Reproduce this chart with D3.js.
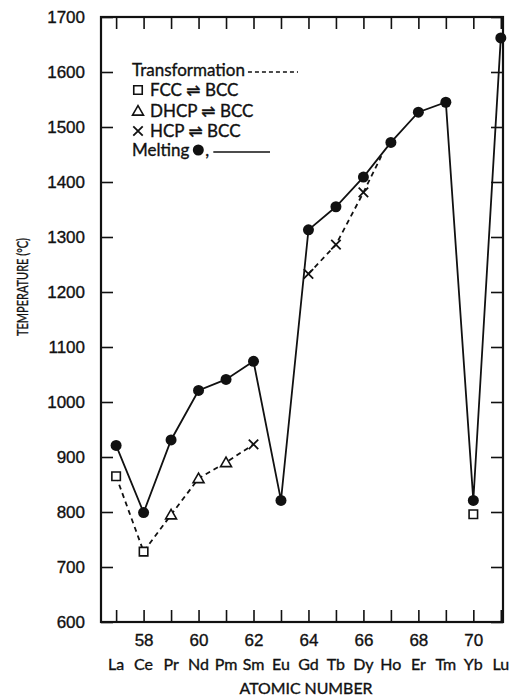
<!DOCTYPE html>
<html>
<head>
<meta charset="utf-8">
<script src="https://cdn.jsdelivr.net/npm/d3@7"></script>
<style>
  html, body { margin: 0; padding: 0; background: #fff; }
  svg { display: block; font-family: Lato, "DejaVu Sans", sans-serif; }
  svg text { stroke: #111; stroke-width: 0.35px; }
</style>
</head>
<body>
<div id="chart"></div>
<script>
(function () {
  // Atomic numbers and element symbols (lanthanides)
  const ATOMIC_NUMBERS = [57, 58, 59, 60, 61, 62, 63, 64, 65, 66, 67, 68, 69, 70, 71];
  const ELEMENTS = ['La', 'Ce', 'Pr', 'Nd', 'Pm', 'Sm', 'Eu', 'Gd', 'Tb', 'Dy', 'Ho', 'Er', 'Tm', 'Yb', 'Lu'];
  const MELTING = [921, 799, 931, 1021, 1041, 1074, 821, 1313, 1355, 1409, 1472, 1527, 1545, 821, 1662];

  // Transformation temperatures (dashed), marker = crystal change
  const TRANS_LIGHT_Z = [57, 58, 59, 60, 61, 62];
  const TRANS_LIGHT_T = [865, 728, 795, 861, 890, 923];
  const TRANS_LIGHT_M = ['square', 'square', 'triangle', 'triangle', 'triangle', 'cross'];

  const TRANS_HEAVY_Z = [64, 65, 66, 66.65];
  const TRANS_HEAVY_T = [1233, 1286, 1381, 1447];
  const TRANS_HEAVY_M = ['cross', 'cross', 'cross', null];

  const TRANS_YB_Z = [70];
  const TRANS_YB_T = [796];
  const TRANS_YB_M = ['square'];

  const Y_TICKS = [600, 700, 800, 900, 1000, 1100, 1200, 1300, 1400, 1500, 1600, 1700];
  const X_LABELED = [58, 60, 62, 64, 66, 68, 70];

  const W = 513, H = 697;
  const PLOT = { left: 101, right: 503, top: 17, bottom: 622 };
  const TICK = 12;

  const svg = d3.select('#chart').append('svg')
    .attr('width', W).attr('height', H);

  const x = d3.scaleLinear().domain([56.45, 71.08]).range([PLOT.left, PLOT.right]);
  const y = d3.scaleLinear().domain([600, 1700]).range([PLOT.bottom, PLOT.top]);

  // Axes (inward ticks on all four sides)
  svg.append('g')
    .attr('transform', `translate(0,${PLOT.bottom})`)
    .call(d3.axisBottom(x).tickValues(ATOMIC_NUMBERS).tickSizeInner(-TICK).tickSizeOuter(0)
      .tickPadding(12).tickFormat(d => X_LABELED.includes(d) ? d : ''))
    .call(g => g.selectAll('text').style('font-size', '17px').attr('fill', '#111'));

  svg.append('g')
    .attr('transform', `translate(0,${PLOT.top})`)
    .call(d3.axisTop(x).tickValues(ATOMIC_NUMBERS).tickSizeInner(-TICK).tickSizeOuter(0).tickFormat(''));

  svg.append('g')
    .attr('transform', `translate(${PLOT.left},0)`)
    .call(d3.axisLeft(y).tickValues(Y_TICKS).tickSizeInner(-TICK).tickSizeOuter(0).tickPadding(16).tickFormat(d3.format('d')))
    .call(g => g.selectAll('text').style('font-size', '17px').attr('fill', '#111'));

  svg.append('g')
    .attr('transform', `translate(${PLOT.right},0)`)
    .call(d3.axisRight(y).tickValues(Y_TICKS).tickSizeInner(-TICK).tickSizeOuter(0).tickFormat(''));

  svg.selectAll('.domain').remove();
  svg.selectAll('.tick line').attr('stroke', '#111').attr('stroke-width', 1.6);

  // Frame
  svg.append('rect')
    .attr('x', PLOT.left).attr('y', PLOT.top)
    .attr('width', PLOT.right - PLOT.left).attr('height', PLOT.bottom - PLOT.top)
    .attr('fill', 'none').attr('stroke', '#111').attr('stroke-width', 2.2);

  // Element symbols under the axis
  svg.append('g').selectAll('text')
    .data(ATOMIC_NUMBERS)
    .join('text')
    .attr('x', d => x(d))
    .attr('y', 670)
    .attr('text-anchor', 'middle')
    .style('font-size', '16px')
    .attr('fill', '#111')
    .text((d, i) => ELEMENTS[i]);

  svg.append('text')
    .attr('x', 306).attr('y', 694)
    .attr('text-anchor', 'middle')
    .style('font-size', '15px')
    .attr('textLength', 133)
    .attr('lengthAdjust', 'spacingAndGlyphs')
    .attr('fill', '#111')
    .text('ATOMIC NUMBER');

  svg.append('text')
    .attr('transform', 'translate(28,287) rotate(-90)')
    .attr('text-anchor', 'middle')
    .style('font-size', '16px')
    .attr('textLength', 98)
    .attr('lengthAdjust', 'spacingAndGlyphs')
    .attr('fill', '#111')
    .text('TEMPERATURE (°C)');

  const line = d3.line().x(d => x(d.z)).y(d => y(d.t));

  function zipped(zs, ts, ms) {
    return zs.map((z, i) => ({ z: z, t: ts[i], m: ms ? ms[i] : null }));
  }

  const melting = zipped(ATOMIC_NUMBERS, MELTING);
  const transSets = [
    zipped(TRANS_LIGHT_Z, TRANS_LIGHT_T, TRANS_LIGHT_M),
    zipped(TRANS_HEAVY_Z, TRANS_HEAVY_T, TRANS_HEAVY_M),
    zipped(TRANS_YB_Z, TRANS_YB_T, TRANS_YB_M),
  ];

  // Dashed transformation lines
  transSets.forEach(set => {
    if (set.length < 2) return;
    svg.append('path')
      .datum(set)
      .attr('d', line)
      .attr('fill', 'none')
      .attr('stroke', '#111')
      .attr('stroke-width', 1.8)
      .attr('stroke-dasharray', '5,4');
  });

  // Solid melting line
  svg.append('path')
    .datum(melting)
    .attr('d', line)
    .attr('fill', 'none')
    .attr('stroke', '#111')
    .attr('stroke-width', 1.8);

  const symX = d3.symbolX || d3.symbolTimes || d3.symbolCross;
  function drawMarker(g, m, cx, cy) {
    if (m === 'square') {
      g.append('path').attr('transform', `translate(${cx},${cy})`)
        .attr('d', d3.symbol(d3.symbolSquare, 72)())
        .attr('fill', '#fff').attr('stroke', '#111').attr('stroke-width', 1.6);
    } else if (m === 'triangle') {
      g.append('path').attr('transform', `translate(${cx},${cy + 1})`)
        .attr('d', d3.symbol(d3.symbolTriangle, 52)())
        .attr('fill', '#fff').attr('stroke', '#111').attr('stroke-width', 1.6);
    } else if (m === 'cross') {
      g.append('path').attr('transform', `translate(${cx},${cy})`)
        .attr('d', d3.symbol(symX, 60)())
        .attr('fill', 'none').attr('stroke', '#111').attr('stroke-width', 1.8);
    }
  }

  const marks = svg.append('g');
  transSets.forEach(set => {
    set.forEach(d => { if (d.m) drawMarker(marks, d.m, x(d.z), y(d.t)); });
  });

  svg.append('g').selectAll('circle')
    .data(melting)
    .join('circle')
    .attr('cx', d => x(d.z))
    .attr('cy', d => y(d.t))
    .attr('r', 5.5)
    .attr('fill', '#111');

  // Legend
  const leg = svg.append('g').attr('fill', '#111').style('font-size', '17px');
  const tTitle = leg.append('text').attr('x', 132).attr('y', 76).text('Transformation');
  const titleEnd = 132 + tTitle.node().getComputedTextLength();
  leg.append('line').attr('x1', titleEnd + 3).attr('x2', 298).attr('y1', 72).attr('y2', 72)
    .attr('stroke', '#111').attr('stroke-width', 1.6).attr('stroke-dasharray', '4,3');

  const rows = [
    { m: 'square', label: 'FCC \u21CC BCC', cy: 90 },
    { m: 'triangle', label: 'DHCP \u21CC BCC', cy: 111 },
    { m: 'cross', label: 'HCP \u21CC BCC', cy: 131 },
  ];
  rows.forEach(r => {
    drawMarker(leg, r.m, 138, r.cy);
    leg.append('text').attr('x', 150).attr('y', r.cy + 6).text(r.label);
  });

  const tMelt = leg.append('text').attr('x', 132).attr('y', 156).text('Melting');
  const meltEnd = 132 + tMelt.node().getComputedTextLength();
  leg.append('circle').attr('cx', meltEnd + 9).attr('cy', 150).attr('r', 5.5).attr('fill', '#111');
  leg.append('text').attr('x', meltEnd + 16).attr('y', 156).text(',');
  leg.append('line').attr('x1', meltEnd + 24).attr('x2', 270).attr('y1', 152).attr('y2', 152)
    .attr('stroke', '#111').attr('stroke-width', 1.6);
})();
</script>
</body>
</html>
